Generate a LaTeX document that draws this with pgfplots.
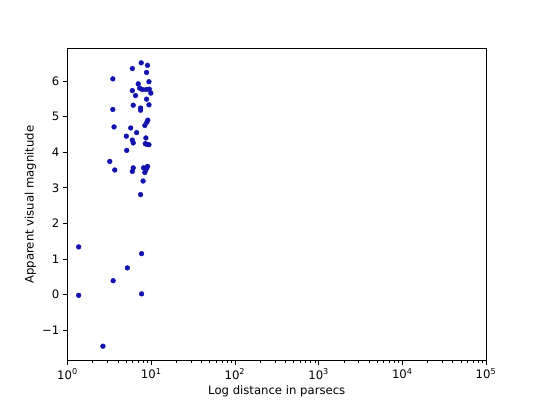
\documentclass[border=0pt]{standalone}
\usepackage{pgfplots}
\pgfplotsset{compat=1.18}
\usepackage{fontspec}
\setmainfont{DejaVu Sans}
\definecolor{dotblue}{RGB}{18,18,175}
\begin{document}
\fontsize{11.7}{14}\selectfont
\begin{tikzpicture}
\path (0,0) rectangle (540bp,405bp);
\begin{axis}[
  at={(67.5bp,44.55bp)}, anchor=south west,
  scale only axis, width=418.5bp, height=311.85bp,
  xmode=log, log basis x=10,
  xmin=1, xmax=100000, ymin=-1.85, ymax=6.91,
  xtick={1,10,100,1000,10000,100000},
  xticklabels={10\textsuperscript{0},10\textsuperscript{1},10\textsuperscript{2},10\textsuperscript{3},10\textsuperscript{4},10\textsuperscript{5}},
  minor xtick={2,3,4,5,6,7,8,9,20,30,40,50,60,70,80,90,200,300,400,500,600,700,800,900,2000,3000,4000,5000,6000,7000,8000,9000,20000,30000,40000,50000,60000,70000,80000,90000},
  ytick={-1,0,1,2,3,4,5,6},
  yticklabels={−1,0,1,2,3,4,5,6},
  tick align=outside, tick pos=left,
  major tick length=4.1bp, minor tick length=2.3bp,
  every tick/.style={black, line width=0.7bp},
  every minor tick/.style={black, line width=0.5bp},
  axis line style={line width=0.8bp},
  xlabel={Log distance in parsecs},
  ylabel={Apparent visual magnitude},
  ticklabel style={font=\fontsize{11.7}{14}\selectfont},
  label style={font=\fontsize{11.7}{14}\selectfont},
  xlabel style={yshift=2bp},
  ylabel style={yshift=-2bp},
]
\addplot[only marks, mark=*, mark size=2.4bp, color=dotblue] table {
x y
7.6 6.51
9.04 6.44
5.95 6.35
8.8 6.24
3.48 6.06
7.0 5.92
9.4 5.98
7.27 5.80
7.82 5.76
8.7 5.76
9.5 5.77
9.9 5.66
5.95 5.73
6.5 5.59
8.8 5.49
3.48 5.20
6.1 5.32
9.4 5.33
7.47 5.24
7.47 5.18
9.1 4.90
8.87 4.84
8.4 4.75
3.6 4.71
5.69 4.68
6.7 4.55
5.05 4.45
5.95 4.34
6.1 4.26
8.64 4.40
8.5 4.24
8.87 4.22
9.4 4.21
5.1 4.05
3.2 3.74
3.67 3.50
6.1 3.56
5.95 3.46
8.1 3.56
8.87 3.56
9.04 3.60
8.6 3.50
8.4 3.43
8.0 3.19
7.47 2.81
1.36 1.34
1.36 -0.02
2.65 -1.45
3.51 0.39
5.19 0.75
7.68 1.15
7.68 0.02
};
\end{axis}
\end{tikzpicture}
\end{document}
